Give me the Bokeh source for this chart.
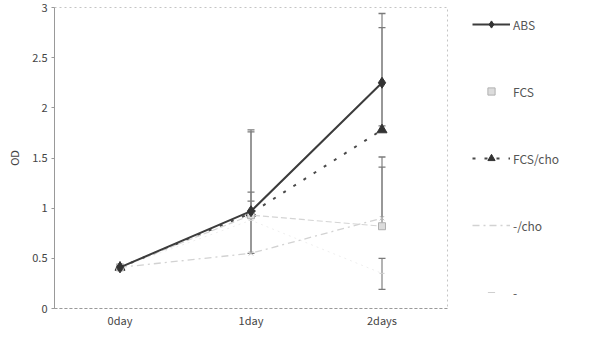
from bokeh.plotting import figure
from bokeh.layouts import row
from bokeh.models import FactorRange, Legend, LegendItem
from bokeh.embed import file_html
from bokeh.resources import INLINE

days = ["0day", "1day", "2days"]
y_ticks = [0, 0.5, 1, 1.5, 2, 2.5, 3]

abs_y = [0.41, 0.97, 2.25]
abs_up = [0.41, 1.78, 2.94]
abs_lo = [0.41, 0.55, 1.82]

fcs_y = [0.41, 0.93, 0.82]
fcs_up = [0.41, 1.16, 1.51]
fcs_lo = [0.41, 0.93, 0.82]

fcscho_y = [0.41, 0.95, 1.78]
fcscho_up = [0.41, 1.76, 2.80]
fcscho_lo = [0.41, 0.95, 1.78]

cho_y = [0.41, 0.55, 0.90]
cho_up = [0.41, 1.07, 1.41]
cho_lo = [0.41, 0.55, 0.90]

minus_y = [0.41, 0.88, 0.35]
minus_up = [0.41, 0.88, 0.50]
minus_lo = [0.41, 0.88, 0.19]

series = [
    ("ABS", abs_y, abs_up, abs_lo),
    ("FCS", fcs_y, fcs_up, fcs_lo),
    ("FCS/cho", fcscho_y, fcscho_up, fcscho_lo),
    ("-/cho", cho_y, cho_up, cho_lo),
    ("-", minus_y, minus_up, minus_lo),
]

FONT = "Noto Sans CJK JP"

# styles per series: (line kwargs, marker kwargs)
styles = {
    "-": (dict(line_color="#eeeeee", line_width=1, line_dash="2 4"),
          dict(marker="dash", size=5, line_color="#cfcfcf")),
    "-/cho": (dict(line_color="#d2d2d2", line_width=1.3, line_dash="7 4 2 4"),
              dict(marker="x", size=6, line_color="#b5b5b5", line_width=1)),
    "FCS": (dict(line_color="#d4d4d4", line_width=1.2, line_dash="6 3"),
            dict(marker="square", size=7, line_color="#b0b0b0", fill_color="#dcdcdc")),
    "FCS/cho": (dict(line_color="#4a4a4a", line_width=2, line_dash="3 9"),
                dict(marker="triangle", size=10, line_color="#333333", fill_color="#333333")),
    "ABS": (dict(line_color="#3c3c3c", line_width=2),
            dict(marker="diamond", size=11, line_color="#333333", fill_color="#333333")),
}

p = figure(width=449, height=330, x_range=FactorRange(*days), y_range=(0, 3),
           output_backend="svg", toolbar_location=None,
           min_border_left=54, min_border_right=2, min_border_top=7, min_border_bottom=10)

p.xgrid.visible = False
p.ygrid.visible = False
p.outline_line_color = "#c4c4c4"
p.outline_line_dash = "2 3"
p.background_fill_color = "white"

p.yaxis.ticker = y_ticks
p.yaxis.axis_line_color = "#999999"
p.yaxis.major_tick_line_color = "#999999"
p.yaxis.major_tick_out = 3
p.yaxis.major_tick_in = 0
p.yaxis.minor_tick_line_color = None
p.yaxis.major_label_standoff = 4
p.yaxis.axis_label = "OD"
p.yaxis.axis_label_standoff = 7
p.yaxis.axis_label_text_font = FONT
p.yaxis.axis_label_text_font_style = "normal"
p.yaxis.axis_label_text_font_size = "11px"
p.yaxis.axis_label_text_color = "#444444"

p.xaxis.axis_line_color = "#9a9a9a"
p.xaxis.axis_line_dash = "3 2"
p.xaxis.major_tick_line_color = None
p.xaxis.major_tick_out = 0
p.xaxis.major_tick_in = 0
p.xaxis.minor_tick_line_color = None
p.xaxis.major_label_standoff = 3

for ax in (p.xaxis, p.yaxis):
    ax.major_label_text_font = FONT
    ax.major_label_text_font_size = "11px"
    ax.major_label_text_color = "#444444"

# error bars
bar_x, bar_lo, bar_up, cap_x, cap_y = [], [], [], [], []
for name, ys, up, lo in series:
    for i, d in enumerate(days):
        if up[i] > lo[i]:
            bar_x.append(d); bar_lo.append(lo[i]); bar_up.append(up[i])
        if up[i] > ys[i]:
            cap_x.append(d); cap_y.append(up[i])
        if lo[i] < ys[i]:
            cap_x.append(d); cap_y.append(lo[i])

p.segment(x0=bar_x, y0=bar_lo, x1=bar_x, y1=bar_up, line_color="#8a8a8a", line_width=1.3)
p.scatter(x=cap_x, y=cap_y, marker="dash", size=7, line_color="#7a7a7a", line_width=1.3)

for name, ys, up, lo in reversed(series):
    lk, mk = styles[name]
    p.line(days, ys, **lk)
    p.scatter(days, ys, **mk)

# legend panel: its own figure to the right of the plot.
# It holds the same series, kept out of its visible range, only to supply the legend glyphs.
lg = figure(width=127, height=330, output_backend="svg", toolbar_location=None,
            x_axis_location=None, y_axis_location=None, min_border=0,
            x_range=FactorRange(*days), y_range=(10, 11))
lg.xgrid.visible = False
lg.ygrid.visible = False
lg.outline_line_color = None

legend_parts = {
    "ABS": ("line", "marker"),
    "FCS": ("marker",),
    "FCS/cho": ("line", "marker"),
    "-/cho": ("line",),
    "-": ("marker",),
}
items = []
for name, ys, up, lo in series:
    lk, mk = styles[name]
    rs = []
    if "line" in legend_parts[name]:
        rs.append(lg.line(days, ys, **lk))
    if "marker" in legend_parts[name]:
        rs.append(lg.scatter(days, ys, **mk))
    items.append(LegendItem(label=name, renderers=rs))

legend = Legend(items=items, location=(23, 7), orientation="vertical",
                glyph_width=38, glyph_height=18, label_height=18, label_standoff=3,
                spacing=49, padding=0, margin=0,
                border_line_color=None, background_fill_alpha=0,
                label_text_font=FONT, label_text_font_size="12px", label_text_color="#555555")
lg.add_layout(legend, "center")

layout = row(p, lg, spacing=0)
open("out.html", "w").write(file_html(layout, INLINE))
